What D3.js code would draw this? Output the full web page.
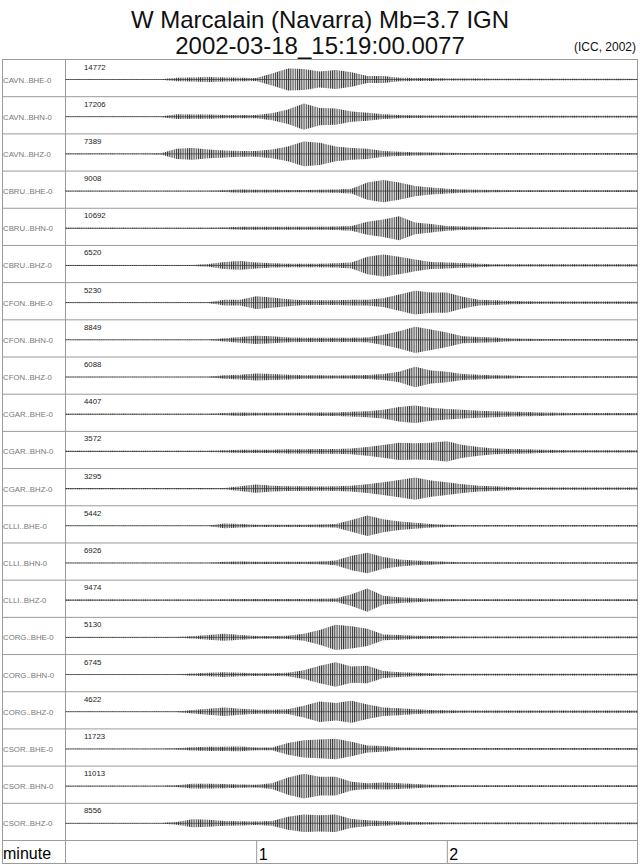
<!DOCTYPE html>
<html><head><meta charset="utf-8">
<script src="https://cdn.jsdelivr.net/npm/d3@7"></script>
<style>body{margin:0;background:#fff}svg{display:block}</style>
</head><body>
<svg id="chart" width="640" height="866"></svg>
<script>
// ---- data ----
const titleLine1 = "W Marcalain (Navarra) Mb=3.7 IGN";
const titleLine2 = "2002-03-18_15:19:00.0077";
const creditText = "(ICC, 2002)";
const stations = ["CAVN..BHE-0","CAVN..BHN-0","CAVN..BHZ-0","CBRU..BHE-0","CBRU..BHN-0","CBRU..BHZ-0",
  "CFON..BHE-0","CFON..BHN-0","CFON..BHZ-0","CGAR..BHE-0","CGAR..BHN-0","CGAR..BHZ-0",
  "CLLI..BHE-0","CLLI..BHN-0","CLLI..BHZ-0","CORG..BHE-0","CORG..BHN-0","CORG..BHZ-0",
  "CSOR..BHE-0","CSOR..BHN-0","CSOR..BHZ-0"];
const maxCounts = [14772,17206,7389,9008,10692,6520,5230,8849,6088,4407,3572,3295,5442,6926,9474,5130,6745,4622,11723,11013,8556];
// envelope sample times (seconds after 15:19:00)
const timeSec = [0,5,10,15,20,25,30,35,40,45,50,55,60,65,70,75,80,85,90,95,100,105,110,115,120,125,130,135,140,145,150,155,160,165,170,175,180];
// envelope amplitude, % of each trace's maximum
const env_CAVN_BHE = [2,2,2,2,2,2,2,12,15,17,15,12,10,42,79,75,58,67,52,25,25,12,10,10,8,8,8,6,6,6,6,6,6,6,6,6,4];
const env_CAVN_BHN = [2,2,2,2,2,2,2,17,15,15,12,12,12,25,52,94,62,58,37,29,17,12,10,8,8,8,8,6,6,6,6,6,6,6,6,6,6];
const env_CAVN_BHZ = [2,2,2,2,2,2,4,37,42,31,25,21,21,31,52,88,79,52,42,37,21,15,12,10,8,6,6,6,6,6,6,6,6,6,6,6,6];
const env_CBRU_BHE = [3,3,3,3,3,3,3,3,3,3,6,12,10,10,8,8,10,12,17,62,79,62,37,25,17,12,10,8,6,6,6,6,6,6,6,6,6];
const env_CBRU_BHN = [4,4,4,4,4,4,4,4,4,4,6,10,10,10,10,10,10,12,17,46,62,85,42,31,17,12,10,6,6,6,6,6,6,6,6,6,6];
const env_CBRU_BHZ = [4,4,4,4,4,4,4,4,4,10,25,31,21,15,12,12,12,15,21,62,79,62,42,25,21,17,12,8,8,8,8,8,8,8,8,8,8];
const env_CFON_BHE = [2,2,2,2,2,2,2,2,2,2,21,21,46,37,25,17,17,17,21,21,31,58,85,73,73,42,21,17,12,10,8,8,8,8,8,8,8];
const env_CFON_BHN = [2,2,2,2,2,2,2,2,2,2,12,21,29,25,17,15,15,15,15,17,37,62,94,73,52,25,21,17,10,8,6,6,6,6,6,6,6];
const env_CFON_BHZ = [2,2,2,2,2,2,2,2,2,2,12,17,25,21,17,12,12,10,12,15,21,37,73,46,37,21,17,12,10,6,6,6,6,6,6,6,6];
const env_CGAR_BHE = [4,4,4,4,4,4,4,4,4,4,8,12,10,10,10,10,12,12,17,21,31,52,62,46,37,31,25,21,17,15,12,10,8,8,8,8,8];
const env_CGAR_BHN = [4,4,4,4,4,4,4,4,4,4,8,12,12,12,15,15,17,17,21,31,46,62,58,62,73,46,31,21,17,15,12,10,8,8,8,8,8];
const env_CGAR_BHZ = [4,4,4,4,4,4,4,4,4,4,4,17,29,21,17,17,15,17,21,31,46,62,79,58,46,31,21,17,12,8,8,8,8,8,8,8,8];
const env_CLLI_BHE = [2,2,2,2,2,2,2,2,2,2,17,12,8,8,8,8,10,12,42,73,46,31,21,12,8,6,6,6,6,6,6,6,6,6,6,6,6];
const env_CLLI_BHN = [2,2,2,2,2,2,2,2,2,2,8,10,8,8,8,8,10,17,52,73,42,25,17,12,8,6,6,6,6,6,6,6,6,6,6,6,6];
const env_CLLI_BHZ = [4,4,4,4,4,4,4,4,4,4,6,8,8,8,8,8,10,12,42,83,31,21,15,10,8,6,6,6,6,6,6,6,6,6,6,6,6];
const env_CORG_BHE = [2,2,2,2,2,2,2,2,8,17,25,17,10,10,12,25,52,90,79,62,21,17,12,10,8,6,6,6,6,6,6,6,6,6,6,6,6];
const env_CORG_BHN = [2,2,2,2,2,2,2,2,8,12,17,12,10,10,12,31,62,88,58,62,25,17,12,10,6,6,6,6,6,6,6,6,6,6,6,6,6];
const env_CORG_BHZ = [2,2,2,2,2,2,2,2,12,21,31,21,15,15,17,42,73,62,79,52,31,25,17,12,10,8,8,8,8,8,8,8,8,8,8,8,8];
const env_CSOR_BHE = [2,2,2,2,2,2,2,4,12,15,15,17,10,10,42,62,67,73,52,25,21,10,8,6,6,6,6,6,6,6,6,6,6,6,6,6,6];
const env_CSOR_BHN = [2,2,2,2,2,2,2,6,17,17,15,12,10,21,62,88,67,67,31,21,25,21,15,10,8,6,6,6,6,6,6,6,6,6,6,6,6];
const env_CSOR_BHZ = [2,2,2,2,2,2,2,10,29,25,17,15,12,17,46,62,58,62,31,21,17,12,10,8,6,6,6,6,6,6,6,6,6,6,6,6,6];
const minorTickSec = [10,20,30,40,50,70,80,90,100,110,130,140,150,160,170];
const majorTickSec = [60,120];
const majorTickLabels = ["1","2"];
const axisLabel = "minute";

const envelopes = [env_CAVN_BHE,env_CAVN_BHN,env_CAVN_BHZ,env_CBRU_BHE,env_CBRU_BHN,env_CBRU_BHZ,
  env_CFON_BHE,env_CFON_BHN,env_CFON_BHZ,env_CGAR_BHE,env_CGAR_BHN,env_CGAR_BHZ,
  env_CLLI_BHE,env_CLLI_BHN,env_CLLI_BHZ,env_CORG_BHE,env_CORG_BHN,env_CORG_BHZ,
  env_CSOR_BHE,env_CSOR_BHN,env_CSOR_BHZ];

// ---- layout ----
const FONT = "'Liberation Sans', Arial, Helvetica, sans-serif";
const L = 2.5, R = 637.5, TOP = 59.5, DIV = 65.5;
const ROW_H = 37.19;
const nRows = stations.length;
const AX_TOP = TOP + nRows * ROW_H, BOTTOM = 863.5;

const svg = d3.select("#chart");
const defs = svg.append("defs");
const pat = defs.append("pattern").attr("id","wig").attr("patternUnits","userSpaceOnUse")
  .attr("width",2.2).attr("height",4);
pat.append("rect").attr("width",0.9).attr("height",4).attr("fill","#000");

const x = d3.scaleLinear().domain([0,180]).range([DIV, R]);
const rowY = d3.scaleLinear().domain([0, nRows]).range([TOP, AX_TOP]);
const amp = d3.scaleLinear().domain([-100,100]).range([14,-14]);

// titles
svg.append("text").attr("x",320).attr("y",28).attr("text-anchor","middle")
  .attr("font-family",FONT).attr("font-size",24).attr("fill","#111").text(titleLine1);
svg.append("text").attr("x",320).attr("y",54).attr("text-anchor","middle")
  .attr("font-family",FONT).attr("font-size",24).attr("fill","#111").text(titleLine2);
svg.append("text").attr("x",636).attr("y",51).attr("text-anchor","end")
  .attr("font-family",FONT).attr("font-size",12).attr("fill","#111").text(creditText);

// grid
const grid = svg.append("g").attr("stroke","#9a9a9a").attr("stroke-width",1).attr("fill","none");
grid.append("rect").attr("x",L).attr("y",TOP).attr("width",R-L).attr("height",BOTTOM-TOP);
grid.append("line").attr("x1",DIV).attr("x2",DIV).attr("y1",TOP).attr("y2",BOTTOM);
grid.selectAll("line.row").data(d3.range(1, nRows+1)).join("line").attr("class","row")
  .attr("x1",L).attr("x2",R).attr("y1",d=>rowY(d)).attr("y2",d=>rowY(d));

// traces
const rows = svg.append("g").selectAll("g.trace").data(stations).join("g").attr("class","trace")
  .attr("transform",(d,i)=>`translate(0,${rowY(i)+20})`);

rows.append("text").attr("x",3).attr("y",3).attr("font-family",FONT).attr("font-size",7.8)
  .attr("fill","#777").text(d=>d);
rows.append("text").attr("x",84).attr("y",-10).attr("font-family",FONT).attr("font-size",7.8)
  .attr("fill","#222").text((d,i)=>maxCounts[i]);

const area = d3.area().x((d,j)=>x(timeSec[j])).y0(d=>amp(-d)).y1(d=>amp(d));
rows.append("path").attr("d",(d,i)=>area(envelopes[i])).attr("fill","#000").attr("fill-opacity",0.12);
rows.append("path").attr("d",(d,i)=>area(envelopes[i])).attr("fill","url(#wig)").attr("fill-opacity",0.8);
rows.append("line").attr("x1",x(0)).attr("x2",x(180)).attr("y1",0).attr("y2",0)
  .attr("stroke","#333").attr("stroke-width",0.7);

// time axis
const axG = svg.append("g").attr("transform",`translate(0,${BOTTOM})`);
axG.call(d3.axisBottom(x).tickValues(minorTickSec).tickSizeInner(-6).tickSizeOuter(0).tickFormat(""));
axG.call(d3.axisBottom(x).tickValues(majorTickSec).tickSizeInner(-(BOTTOM-AX_TOP)).tickSizeOuter(0)
  .tickFormat((d,i)=>majorTickLabels[i]));
axG.selectAll(".domain").remove();
axG.selectAll(".tick line").attr("stroke","#9a9a9a");
axG.selectAll(".tick text").attr("font-family",FONT).attr("font-size",16).attr("fill","#000")
  .attr("text-anchor","start").attr("x",2).attr("y",-4).attr("dy",0);
svg.append("text").attr("x",3).attr("y",859).attr("font-family",FONT).attr("font-size",16)
  .attr("fill","#000").text(axisLabel);
</script>
</body></html>
